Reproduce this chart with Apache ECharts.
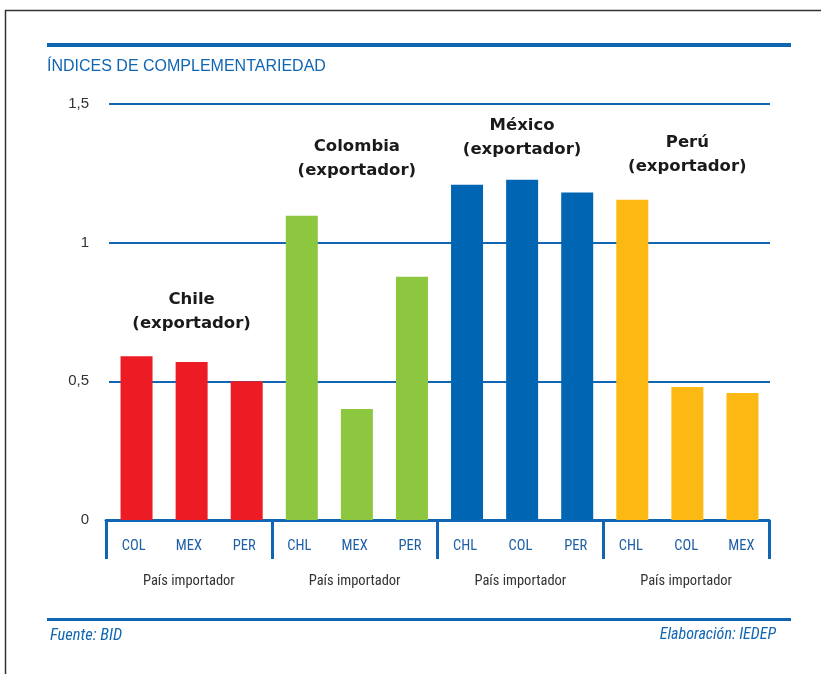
<!DOCTYPE html>
<html>
<head>
<meta charset="utf-8">
<script src="https://cdn.jsdelivr.net/npm/echarts@6/dist/echarts.min.js"></script>
<style>
html,body{margin:0;padding:0;background:#fff;}
#chart{width:821px;height:674px;}
</style>
</head>
<body>
<div id="chart"></div>
<script>
// ---- data ----
var importers = ['COL','MEX','PER','CHL','MEX','PER','CHL','COL','PER','CHL','COL','MEX'];
var values = [0.59,0.57,0.50, 1.097,0.40,0.877, 1.209,1.227,1.181, 1.155,0.48,0.458];
var exporters = ['Chile','Colombia','México','Perú'];
var groupColors = ['#ed1c24','#8dc63f','#0066b3','#fdb913'];
var groupAxisLabels = ['País importador','País importador','País importador','País importador'];
var annotationLevels = [0.752, 1.302, 1.378, 1.318];
var yTicks = [0, 0.5, 1, 1.5];

var BLUE = '#1166b3';
var NARROW = '"Roboto Condensed", "Liberation Sans Narrow", "DejaVu Sans Condensed", sans-serif';
var SANS = '"Liberation Sans", Arial, sans-serif';

var barData = values.map(function(v, i){
  return {value: v, itemStyle: {color: groupColors[Math.floor(i/3)]}};
});
var markData = exporters.map(function(name, g){
  return {coord: [g*3+1, annotationLevels[g]], value: name + '\n(exportador)'};
});

var chart = echarts.init(document.getElementById('chart'), null, {renderer:'canvas'});
chart.setOption({
  animation: false,
  backgroundColor: '#fff',
  graphic: [
    {type:'polyline', shape:{points:[[5.5,674],[5.5,10.5],[821,10.5]]}, style:{stroke:'#333', lineWidth:1.5, fill:null}},
    {type:'rect', shape:{x:47, y:43, width:744, height:4}, style:{fill:BLUE}},
    {type:'text', left:47, top:59, style:{text:'ÍNDICES DE COMPLEMENTARIEDAD', fill:BLUE, font:'16px ' + SANS}},
    {type:'rect', shape:{x:47, y:618, width:744, height:3}, style:{fill:BLUE}},
    {type:'text', left:50, top:627, style:{text:'Fuente: BID', fill:BLUE, font:'italic 16.5px ' + NARROW}},
    {type:'text', right:45, top:627, style:{text:'Elaboración: IEDEP', fill:BLUE, font:'italic 16px ' + NARROW, align:'right'}}
  ],
  grid: [
    {left:109, right:51, top:104, bottom:154},
    {left:106, right:52, top:104, bottom:154}
  ],
  xAxis: [
    {type:'category', gridIndex:0, data: importers, show:false},
    {type:'category', gridIndex:1, data: importers, axisLine:{show:false}, axisTick:{show:false},
     axisLabel:{color:'#1f5fa6', fontSize:14.5, fontFamily:NARROW, margin:19, interval:0}},
    {type:'category', gridIndex:1, data: groupAxisLabels, position:'bottom',
     axisLine:{show:true, lineStyle:{color:BLUE, width:3}},
     axisTick:{show:true, length:39, interval:0, lineStyle:{color:BLUE, width:3}},
     axisLabel:{color:'#333', fontSize:14.5, fontFamily:NARROW, margin:54, interval:0}}
  ],
  yAxis: [
    {type:'value', gridIndex:0, min:0, max:1.5, interval:0.5,
      axisLine:{show:false}, axisTick:{show:false},
      axisLabel:{color:'#333', fontSize:15, fontFamily:SANS, margin:20,
        formatter:function(v){ return String(v).replace('.', ','); }},
      splitLine:{lineStyle:{color:BLUE, width:2}}
    },
    {type:'value', gridIndex:1, min:0, max:1.5, show:false, splitLine:{show:false}}
  ],
  series: [{
    type:'bar', xAxisIndex:0, yAxisIndex:0, data: barData, barWidth:32,
    markPoint: {
      symbol:'circle', symbolSize:0,
      label:{show:true, position:'inside', formatter:function(p){return p.value;},
        color:'#1a1a1a', fontWeight:'bold', fontSize:16.5, lineHeight:24,
        fontFamily:'"DejaVu Sans", "Liberation Sans", sans-serif'},
      data: markData
    }
  }]
});
</script>
</body>
</html>
